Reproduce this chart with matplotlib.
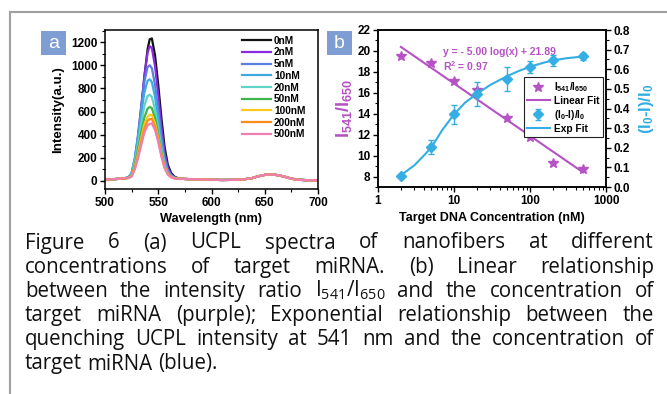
import numpy as np
import matplotlib
matplotlib.use("Agg")
import matplotlib.pyplot as plt
from matplotlib.lines import Line2D
from matplotlib.ticker import MultipleLocator, LogLocator, NullFormatter

CAP_FONT = 'Open Sans'
plt.rcParams['mathtext.fontset'] = 'custom'
plt.rcParams['mathtext.rm'] = CAP_FONT
plt.rcParams['mathtext.it'] = CAP_FONT + ':italic'
plt.rcParams['mathtext.bf'] = 'Liberation Sans:bold'
plt.rcParams['font.family'] = ['Liberation Sans', 'DejaVu Sans']

# ---------------- Panel (a) data ----------------
concentrations = ['0nM', '2nM', '5nM', '10nM', '20nM', '50nM', '100nM', '200nM', '500nM']
spectrum_colors = ['#111111', '#8a2be2', '#5a7fe0', '#3fa9e0', '#5fd3c8', '#3fb54a',
                   '#ffc81e', '#ff8c1a', '#ef7fb0']
wl_pre = [500, 510, 518]
base_pre = [12, 16, 22]
wl_peak = [522, 525, 528, 531, 534, 537, 540, 542, 544, 547, 550, 553, 556, 559, 562, 565, 568]
peak_0nM = [30, 55, 160, 350, 610, 900, 1140, 1225, 1232, 1085, 830, 540, 290, 140, 70, 38, 25]
peak_2nM = [30, 60, 180, 380, 640, 910, 1110, 1165, 1150, 990, 740, 460, 240, 115, 58, 33, 24]
peak_5nM = [30, 70, 200, 400, 640, 860, 985, 1000, 975, 830, 610, 370, 190, 90, 48, 30, 22]
peak_10nM = [30, 68, 190, 370, 580, 765, 868, 878, 855, 725, 530, 320, 165, 80, 44, 28, 22]
peak_20nM = [30, 62, 170, 320, 495, 650, 735, 745, 725, 615, 450, 275, 140, 70, 40, 27, 21]
peak_50nM = [28, 50, 140, 270, 420, 550, 625, 640, 630, 540, 400, 245, 128, 65, 37, 25, 20]
peak_100nM = [25, 42, 120, 235, 370, 490, 555, 572, 570, 495, 370, 228, 120, 60, 35, 24, 19]
peak_200nM = [25, 40, 110, 215, 340, 455, 520, 535, 535, 470, 355, 220, 115, 58, 33, 23, 18]
peak_500nM = [25, 38, 100, 195, 310, 420, 480, 494, 497, 440, 335, 210, 112, 56, 32, 22, 18]
wl_post = [572, 580, 590, 600, 610, 620, 630, 638, 644, 650, 656, 662, 668, 674, 680, 690, 700]
base_post = [18, 15, 12, 10, 8, 9, 13, 24, 40, 52, 56, 50, 38, 22, 11, 6, 5]
peaks = [peak_0nM, peak_2nM, peak_5nM, peak_10nM, peak_20nM, peak_50nM,
         peak_100nM, peak_200nM, peak_500nM]

# ---------------- Panel (b) data ----------------
conc_b = [2, 5, 10, 20, 50, 100, 200, 500]
ratio_b = [19.5, 18.8, 17.1, 16.3, 13.6, 11.8, 9.3, 8.7]
quench_b = [0.055, 0.205, 0.37, 0.475, 0.55, 0.61, 0.645, 0.665]
quench_err = [0.01, 0.035, 0.05, 0.06, 0.06, 0.03, 0.03, 0.02]
lin_slope, lin_intercept = -5.00, 21.89
lin_x = [2, 500]
exp_fit_x = [2, 3, 4, 5, 7, 10, 14, 20, 30, 50, 70, 100, 150, 200, 300, 500]
exp_fit_y = [0.06, 0.11, 0.16, 0.2, 0.29, 0.37, 0.43, 0.475, 0.52, 0.565, 0.59, 0.613, 0.633, 0.645, 0.656, 0.665]

PURPLE = '#b552c4'
BLUE = '#34aee3'

W, H = 667, 394
fig = plt.figure(figsize=(W / 100, H / 100), dpi=100)

def fx(px):
    return px / W

def fy(py):
    return 1 - py / H

# frame
fig.add_artist(Line2D([fx(10), fx(667)], [fy(12), fy(12)], transform=fig.transFigure,
                      color='#a0a0a0', lw=1.5))
fig.add_artist(Line2D([fx(10), fx(10)], [fy(12), fy(394)], transform=fig.transFigure,
                      color='#a0a0a0', lw=1.5))

# ---------------- Panel (a) ----------------
axa = fig.add_axes([fx(105), fy(189), fx(318) - fx(105), fy(30) - fy(189)])
for lab, col, pk in zip(concentrations, spectrum_colors, peaks):
    x = wl_pre + wl_peak + wl_post
    y = base_pre + pk + base_post
    axa.plot(x, y, color=col, lw=1.6, label=lab)
axa.set_xlim(500, 700)
axa.set_ylim(-70, 1305)
axa.xaxis.set_major_locator(MultipleLocator(50))
axa.xaxis.set_minor_locator(MultipleLocator(25))
axa.yaxis.set_major_locator(MultipleLocator(200))
axa.yaxis.set_minor_locator(MultipleLocator(100))
axa.tick_params(which='major', length=3.5, width=1, direction='out', pad=2)
axa.tick_params(which='minor', length=2, width=0.8, direction='out')
for t in axa.get_xticklabels() + axa.get_yticklabels():
    t.set_fontsize(8.5)
    t.set_fontweight('bold')
for s in axa.spines.values():
    s.set_linewidth(1.1)
axa.set_xlabel('Wavelength (nm)', fontsize=9.2, fontweight='bold', labelpad=3.5)
axa.set_ylabel('Intensity(a.u.)', fontsize=9.6, fontweight='bold', labelpad=5)
leg = axa.legend(loc='upper right', bbox_to_anchor=(0.96, 0.99), frameon=False,
                 prop=dict(weight='bold', size=7.3), handlelength=2.9,
                 labelspacing=0.17, handletextpad=0.3, borderaxespad=0.0)

# ---------------- Panel (b) ----------------
axb = fig.add_axes([fx(378), fy(187), fx(606) - fx(378), fy(30) - fy(187)])
axb.set_xscale('log')
axb.set_xlim(1, 1000)
axb.set_ylim(7, 22)
ax2 = axb.twinx()
ax2.set_ylim(0, 0.8)

lx = np.array(lin_x, dtype=float)
axb.plot(lx, lin_slope * np.log10(lx) + lin_intercept, color=PURPLE, lw=1.5, label='Linear Fit')
axb.plot(conc_b, ratio_b, linestyle='none', marker='*', ms=7.5, color=PURPLE,
         label='I$_\\mathbf{541}$/I$_\\mathbf{650}$')
ax2.plot(exp_fit_x, exp_fit_y, color=BLUE, lw=1.5, label='Exp Fit')
ax2.errorbar(conc_b, quench_b, yerr=quench_err, fmt='D', ms=5, color=BLUE,
             ecolor=BLUE, elinewidth=1, capsize=2, label='(I$_\\mathbf{0}$-I)/I$_\\mathbf{0}$')

axb.yaxis.set_major_locator(MultipleLocator(2))
axb.yaxis.set_minor_locator(MultipleLocator(1))
ax2.yaxis.set_minor_locator(MultipleLocator(0.05))
axb.xaxis.set_minor_locator(LogLocator(base=10, subs=np.arange(2, 10), numticks=20))
axb.xaxis.set_minor_formatter(NullFormatter())
axb.set_xticks([1, 10, 100, 1000])
axb.set_xticklabels(['1', '10', '100', '1000'])
ax2.set_yticks([0, 0.1, 0.2, 0.3, 0.4, 0.5, 0.6, 0.7, 0.8])
ax2.set_yticklabels(['0.0', '0.1', '0.2', '0.3', '0.4', '0.5', '0.6', '0.7', '0.8'])
for a in (axb, ax2):
    a.tick_params(which='major', length=3.5, width=1, direction='out', pad=2)
    a.tick_params(which='minor', length=2, width=0.8, direction='out')
    for t in a.get_xticklabels() + a.get_yticklabels():
        t.set_fontsize(8.5)
        t.set_fontweight('bold')
    for s in a.spines.values():
        s.set_linewidth(1.1)
axb.set_xlabel('Target DNA Concentration (nM)', fontsize=9, fontweight='bold', labelpad=3.5)
axb.set_ylabel('I$_\\mathbf{541}$/I$_\\mathbf{650}$', fontsize=13, fontweight='bold',
               color=PURPLE, labelpad=2)
ax2.set_ylabel('(I$_\\mathbf{0}$-I)/I$_\\mathbf{0}$', fontsize=12, fontweight='bold',
               color=BLUE, rotation=90, labelpad=5)

axb.text(0.285, 0.86, 'y = - 5.00 log(x) + 21.89', transform=axb.transAxes,
         color=PURPLE, fontsize=7.5, fontweight='bold', va='center')
axb.text(0.285, 0.77, 'R$^\\mathbf{2}$ = 0.97', transform=axb.transAxes,
         color=PURPLE, fontsize=7.5, fontweight='bold', va='center')

h1, l1 = axb.get_legend_handles_labels()
h2, l2 = ax2.get_legend_handles_labels()
handles = [h1[1], h1[0], h2[1], h2[0]]
labels = [l1[1], l1[0], l2[1], l2[0]]
lg = ax2.legend(handles, labels, loc='upper right', bbox_to_anchor=(0.985, 0.70),
                borderaxespad=0, prop=dict(weight='bold', size=7.3), handlelength=2.3,
                handletextpad=0.4, labelspacing=0.2, fancybox=False, edgecolor='#222222',
                framealpha=1, borderpad=0.3)
lg.get_frame().set_linewidth(0.8)

# panel labels
for (x0, lab) in ((41, 'a'), (327, 'b')):
    fig.patches.append(matplotlib.patches.Rectangle((fx(x0), fy(55)), fx(25), fy(31) - fy(55),
                                                    transform=fig.transFigure,
                                                    facecolor='#7d9dd3', edgecolor='none'))
    fig.text(fx(x0 + 12.5), fy(43), lab, color='white', fontsize=14, ha='center', va='center',
             family='Liberation Sans')

# ---------------- caption ----------------
cap_lines = [
    ("Figure 6 (a) UCPL spectra of nanofibers at different", True),
    ("concentrations of target miRNA. (b) Linear relationship", True),
    ("between the intensity ratio I$_{541}$/I$_{650}$ and the concentration of", True),
    ("target miRNA (purple); Exponential relationship between the", True),
    ("quenching UCPL intensity at 541 nm and the concentration of", True),
    ("target miRNA (blue).", False),
]
cap_baselines = [248.5, 272.7, 296.9, 321.1, 345.3, 369.5]
CAP_L, CAP_R = 25, 654
CAP_SIZE = 14.8
renderer = fig.canvas.get_renderer()
for (line, just), yb in zip(cap_lines, cap_baselines):
    words = line.split(' ')
    texts = [fig.text(0, fy(yb), w, fontsize=CAP_SIZE, family=CAP_FONT, va='baseline', ha='left',
                      color='#111111') for w in words]
    widths = [t.get_window_extent(renderer).width for t in texts]
    sp = fig.text(0, 0, 'a a', fontsize=CAP_SIZE, family=CAP_FONT)
    sp2 = fig.text(0, 0, 'aa', fontsize=CAP_SIZE, family=CAP_FONT)
    natural_gap = sp.get_window_extent(renderer).width - sp2.get_window_extent(renderer).width
    sp.remove(); sp2.remove()
    if just:
        gap = max((CAP_R - CAP_L - sum(widths)) / (len(words) - 1), natural_gap * 0.6)
    else:
        gap = natural_gap
    x = CAP_L
    for t, w in zip(texts, widths):
        t.set_x(fx(x))
        x += w + gap

fig.savefig('out.png', dpi=100)
